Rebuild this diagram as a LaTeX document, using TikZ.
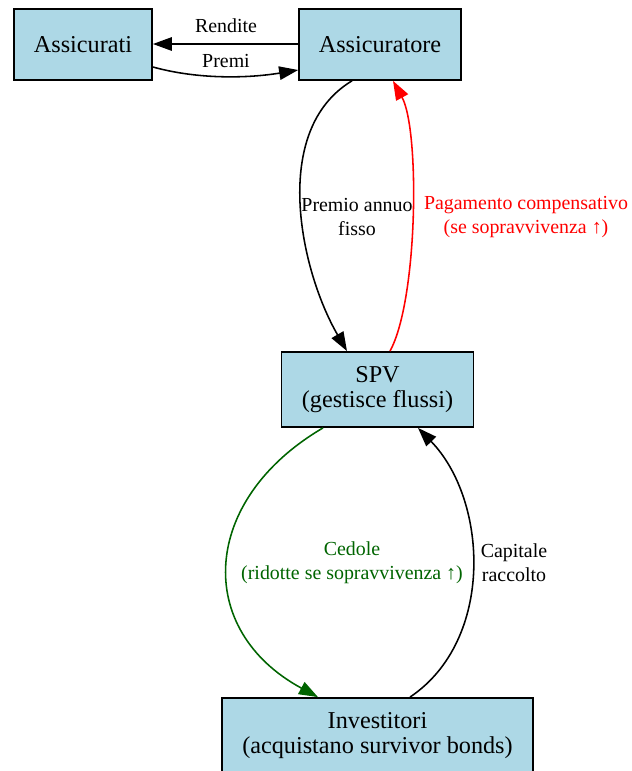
\documentclass[tikz,border=0pt]{standalone}
\usepackage{fontspec}
\setmainfont{Liberation Serif}
\usetikzlibrary{arrows.meta,calc}
\definecolor{boxblue}{HTML}{ADD8E6}
\definecolor{flowgreen}{HTML}{006400}
\definecolor{flowred}{HTML}{FF0000}
\tikzset{
  >={Triangle[length=11pt,width=7.8pt]},
  % attori
  ent/.style={rectangle,draw=black,fill=boxblue,line width=1pt,align=center,
              inner sep=0pt,font=\rmfamily\fontsize{14}{14.5}\selectfont},
  % flussi
  fl/.style={->,draw=black,line width=0.9pt},
  fg/.style={->,draw=flowgreen,line width=0.9pt},
  fr/.style={->,draw=flowred,line width=0.9pt},
  lb/.style={align=center,inner sep=1pt,font=\rmfamily\fontsize{11.5}{13.9}\selectfont},
}

\begin{document}
\begin{tikzpicture}[x=0.578pt,y=-0.578pt]
  \useasboundingbox (0,0) rectangle (632,771);
  \node[ent,minimum width=79.8pt,minimum height=41pt] (ass) at (83,44.5) {Assicurati};
  \node[ent,minimum width=93.6pt,minimum height=41pt] (assr) at (380,44.5) {Assicuratore};
  \node[ent,minimum width=111pt,minimum height=43.4pt] (spv) at (377.5,389.5) {SPV\\(gestisce flussi)};
  \node[ent,minimum width=179.8pt,minimum height=43.4pt] (inv) at (377.5,735.5) {Investitori\\(acquistano survivor bonds)};
  % assicurati <-> assicuratore
  \draw[fl] ($(assr.west)+(0,-0.5)$) -- ($(ass.east)+(0,-0.5)$);
  \node[lb] (lrend) at (226,26) {Rendite};
  \draw[fl] ($(ass.east)+(0,22.5)$) .. controls (200,80) and (250,78) .. ($(assr.west)+(0,25.5)$);
  \node[lb] (lpremi) at (226,61) {Premi};
  % assicuratore <-> spv
  \draw[fl] ($(assr.south)+(-28,0)$) .. controls (270,130) and (300,270) .. ($(spv.north)+(-30.5,0)$);
  \node[lb] (lpremio) at (357,217) {Premio annuo\\fisso};
  \draw[fr] ($(spv.north)+(12.5,0)$) .. controls (418,300) and (420,130) .. ($(assr.south)+(13,0)$);
  \node[lb,text=flowred] (lpag) at (526,217) {Pagamento compensativo\\(se sopravvivenza ↑)};
  % spv <-> investitori
  \draw[fg] ($(spv.south)+(-54.5,0)$) .. controls (200,500) and (194,630) .. ($(inv.north)+(-59.5,0)$);
  \node[lb,text=flowgreen] (lced) at (352,563) {Cedole\\(ridotte se sopravvivenza ↑)};
  \draw[fl] ($(inv.north)+(32.5,0)$) .. controls (495,640) and (488,500) .. ($(spv.south)+(40.5,0)$);
  \node[lb] (lcap) at (514,563) {Capitale\\raccolto};
\end{tikzpicture}
\end{document}
